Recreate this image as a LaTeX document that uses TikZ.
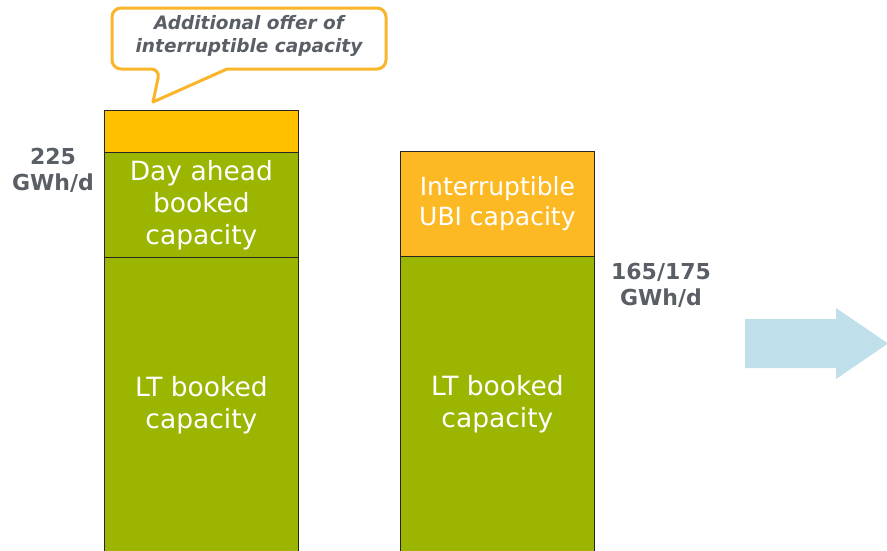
\documentclass[tikz,border=0pt]{standalone}
\usepackage{fontspec}
\setmainfont{DejaVu Sans}
\usetikzlibrary{positioning}

\definecolor{barGreen}{RGB}{155,181,0}
\definecolor{barOrange}{RGB}{255,192,0}
\definecolor{ubiOrange}{RGB}{253,185,36}
\definecolor{calloutOrange}{RGB}{251,181,42}
\definecolor{labelGray}{RGB}{90,95,102}
\definecolor{arrowBlue}{RGB}{191,223,234}

\begin{document}
\begin{tikzpicture}[x=1pt, y=-1pt
        , bar/.style={ draw=black!85, line width=.8pt, anchor=north west
            , minimum width=194pt, inner sep=0pt, text=white, align=center
            , font=\fontsize{26.5}{32}\selectfont }
        , gwh/.style={ text=labelGray, align=center
            , font=\bfseries\fontsize{22}{26}\selectfont }
        , offertext/.style={ text=labelGray, align=center
            , font=\bfseries\itshape\fontsize{18.5}{23}\selectfont }
        ]

        \useasboundingbox (0,0) rectangle (887,550);

        % Left column: long term, day ahead and the extra offer on top.
        \node[bar, fill=barGreen, minimum height=295pt] (ltA) at (104,257)
            {LT booked\\capacity};
        \node[bar, fill=barGreen, minimum height=105pt] (dayA) at (104,152)
            {Day ahead\\booked\\capacity};
        \node[bar, fill=barOrange, minimum height=42pt] (extraA) at (104,110) {};

        % Right column: long term plus interruptible UBI.
        \node[bar, fill=barGreen, minimum height=295pt] (ltB) at (400,256)
            {LT booked\\capacity};
        \node[bar, fill=ubiOrange, minimum height=105pt
            , font=\fontsize{25}{30}\selectfont] (ubiB) at (400,151)
            {Interruptible\\UBI capacity};

        \node[gwh] (capA) at (53,170) {225\\GWh/d};
        \node[gwh] (capB) at (661,285) {165/175\\GWh/d};

        % Speech bubble pointing at the extra offer.
        \coordinate (tip) at (153,102);
        \draw[calloutOrange, line width=3pt, fill=white, line join=round]
            (tip) -- (227,69) [rounded corners=9pt] -- (386,69) -- (386,8)
            -- (112,8) -- (112,69) -- (160,69) [sharp corners] -- cycle;
        \node[offertext] (offer) at (249,35.5)
            {Additional offer of\\interruptible capacity};

        % Arrow to the next slide.
        \fill[arrowBlue] (745,319) -- (836,319) -- (836,308) -- (888,343.5)
            -- (836,379) -- (836,368) -- (745,368) -- cycle;

    \end{tikzpicture}
\end{document}
